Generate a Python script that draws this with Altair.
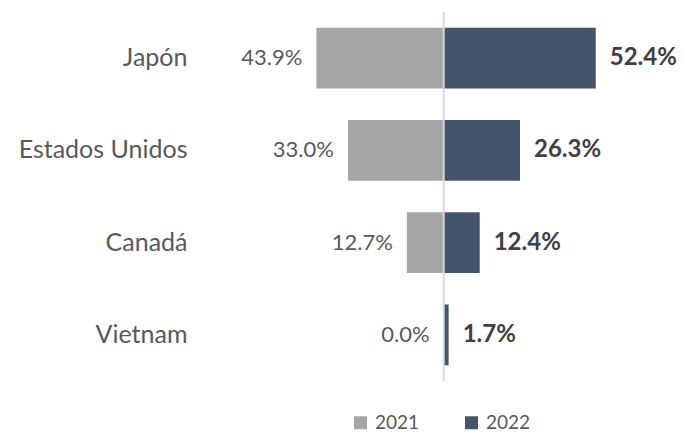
import altair as alt
import pandas as pd

countries = ["Japón", "Estados Unidos", "Canadá", "Vietnam"]
years = ["2021", "2022"]
v2021 = [43.9, 33.0, 12.7, 0.0]
v2022 = [52.4, 26.3, 12.4, 1.7]

rows = []
for c, a, b in zip(countries, v2021, v2022):
    rows.append({"pais": c, "anio": "2021", "valor": a, "x": -a, "label": f"{a:.1f}%"})
    rows.append({"pais": c, "anio": "2022", "valor": b, "x": b, "label": f"{b:.1f}%"})
df = pd.DataFrame(rows)

FONT = "Lato"
xscale = alt.Scale(domain=[-84, 78], nice=False, zero=False)
yenc = alt.Y("pais:N", sort=countries,
             scale=alt.Scale(paddingInner=0.34, paddingOuter=0.17),
             axis=alt.Axis(title=None, domain=False, ticks=False, labelPadding=13,
                           labelFontSize=25, labelColor="#595959", labelFont=FONT))

base = alt.Chart(df)

bars = base.mark_bar().encode(
    x=alt.X("x:Q", scale=xscale, axis=None),
    x2=alt.datum(0),
    y=yenc,
    color=alt.Color("anio:N", scale=alt.Scale(domain=years, range=["#A6A6A6", "#44546A"]),
                    legend=alt.Legend(title=None, orient="none", direction="horizontal",
                                      legendX=149, legendY=399, symbolType="square",
                                      symbolSize=169, symbolStrokeWidth=0, labelFontSize=19,
                                      labelColor="#595959", labelFont=FONT, columnPadding=42,
                                      labelOffset=5, padding=2)),
)

rule = alt.Chart(pd.DataFrame({"z": [0]})).mark_rule(color="#D9D9D9", strokeWidth=2).encode(
    x=alt.X("z:Q", scale=xscale, axis=None)
)

t21 = base.transform_filter(alt.datum.anio == "2021").mark_text(
    align="right", dx=-14, fontSize=22, color="#595959", font=FONT
).encode(x=alt.X("x:Q", scale=xscale, axis=None), y=yenc, text="label:N")

t22 = base.transform_filter(alt.datum.anio == "2022").mark_text(
    align="left", dx=14, fontSize=24, fontWeight="bold", color="#404040", font=FONT
).encode(x=alt.X("x:Q", scale=xscale, axis=None), y=yenc, text="label:N")

chart = alt.layer(bars, rule, t21, t22).properties(
    width=470, height=369,
    autosize=alt.AutoSizeParams(type="none"),
    padding={"left": 200, "top": 12, "right": 13, "bottom": 51},
).configure_view(stroke=None)

chart.save("out.html", embed_options={"renderer": "svg", "actions": False})
